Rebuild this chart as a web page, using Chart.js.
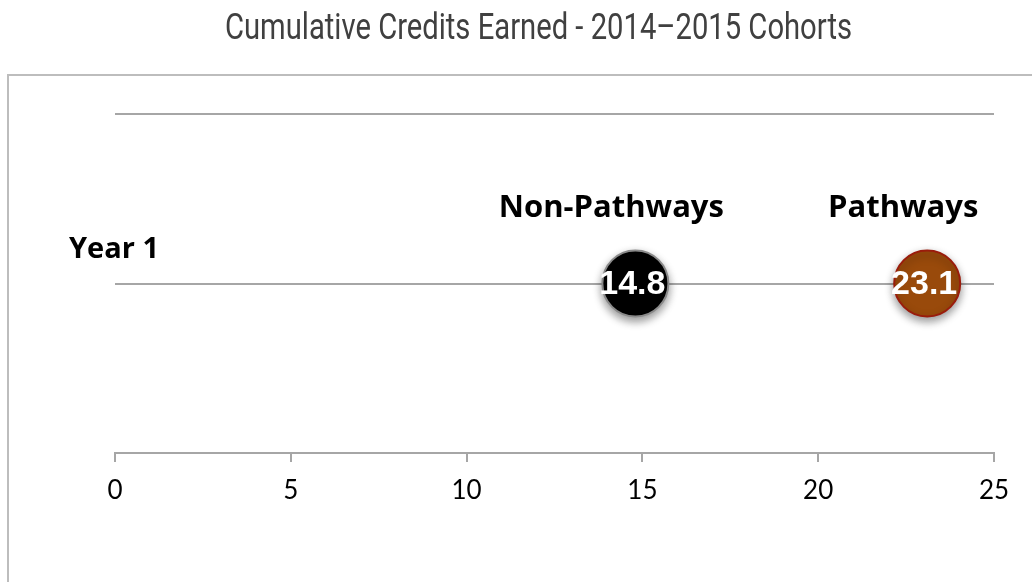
<!DOCTYPE html>
<html>
<head>
<meta charset="utf-8">
<script src="https://cdn.jsdelivr.net/npm/chart.js@4/dist/chart.umd.min.js"></script>
<style>
  html, body { margin: 0; padding: 0; background: #fff; }
  canvas { display: block; }
</style>
</head>
<body>
<canvas id="c" width="1032" height="582"></canvas>
<script>
const chartTitle = 'Cumulative Credits Earned - 2014\u20132015 Cohorts';
const categories = ['Year 1'];
const seriesNames = ['Non-Pathways', 'Pathways'];
const seriesValues = [14.8, 23.1];
const seriesFill = ['#000000', '#994a0b'];
const seriesBorder = ['#8a8a8a', '#9a1c0c'];
const xTicks = [0, 5, 10, 15, 20, 25];

const datasets = seriesNames.map((name, i) => ({
  label: name,
  data: [{ x: seriesValues[i], y: 1 }],
  backgroundColor: seriesFill[i],
  borderColor: seriesBorder[i],
  borderWidth: 2,
  pointRadius: 33,
  pointHoverRadius: 33
}));

const frame = {
  id: 'frame',
  beforeDraw(chart) {
    const ctx = chart.ctx;
    ctx.save();
    ctx.fillStyle = '#fff';
    ctx.fillRect(0, 0, chart.width, chart.height);
    ctx.strokeStyle = '#bdbdbd';
    ctx.lineWidth = 2;
    ctx.beginPath();
    ctx.moveTo(1040, 75);
    ctx.lineTo(8, 75);
    ctx.lineTo(8, 600);
    ctx.stroke();
    // condensed title (real text, horizontally compressed)
    ctx.font = '36px Roboto, "DejaVu Sans", sans-serif';
    ctx.fillStyle = '#404040';
    ctx.textAlign = 'center';
    ctx.textBaseline = 'middle';
    const w = ctx.measureText(chartTitle).width;
    const sx = 627 / w;
    ctx.translate(538.5, 30);
    ctx.scale(sx, 1);
    ctx.fillText(chartTitle, 0, 0);
    ctx.restore();
  }
};

const shadow = {
  id: 'shadow',
  beforeDatasetsDraw(chart) {
    const ctx = chart.ctx;
    ctx.save();
    ctx.shadowColor = 'rgba(0,0,0,0.4)';
    ctx.shadowBlur = 8;
    ctx.shadowOffsetY = 4;
  },
  afterDatasetsDraw(chart) {
    chart.ctx.restore();
  }
};

const labels = {
  id: 'labels',
  afterDatasetsDraw(chart) {
    const ctx = chart.ctx;
    const ys = chart.scales.y;
    ctx.save();
    categories.forEach((cat, ci) => {
      const py = ys.getPixelForValue(ci + 1);
      ctx.font = 'bold 29px "Open Sans", sans-serif';
      ctx.fillStyle = '#000';
      ctx.textAlign = 'left';
      ctx.textBaseline = 'middle';
      ctx.fillText(cat, 69, py - 34);
    });
    chart.data.datasets.forEach((ds, i) => {
      const el = chart.getDatasetMeta(i).data[0];
      ctx.font = 'bold 31px "Open Sans", sans-serif';
      ctx.fillStyle = '#000';
      ctx.textAlign = 'center';
      ctx.textBaseline = 'middle';
      ctx.fillText(ds.label, el.x - 24, el.y - 75);
      ctx.font = 'bold 34px "Liberation Sans", Arial, sans-serif';
      ctx.fillStyle = '#fff';
      ctx.fillText(ds.data[0].x.toFixed(1), el.x - 3, el.y + 1);
    });
    ctx.restore();
  }
};

new Chart(document.getElementById('c'), {
  type: 'scatter',
  data: { datasets },
  options: {
    responsive: false,
    animation: false,
    events: [],
    layout: { padding: { left: 115, right: 38, top: 114, bottom: 0 } },
    plugins: {
      legend: { display: false },
      tooltip: { enabled: false },
      title: { display: false }
    },
    scales: {
      x: {
        type: 'linear',
        min: 0,
        max: 25,
        afterBuildTicks(scale) { scale.ticks = xTicks.map(v => ({ value: v })); },
        afterFit(scale) { scale.height = 129; },
        grid: { drawOnChartArea: false, drawTicks: true, tickLength: 9, color: '#a6a6a6', lineWidth: 2 },
        border: { display: true, color: '#a6a6a6', width: 2 },
        ticks: { color: '#000', padding: 13, font: { family: 'Lato, "Open Sans", sans-serif', size: 26 } }
      },
      y: {
        type: 'linear',
        min: 0,
        max: 2,
        afterFit(scale) { scale.width = 0; },
        ticks: { display: false, stepSize: 1 },
        grid: { display: true, drawTicks: false, color: '#a6a6a6', lineWidth: 2 },
        border: { display: false }
      }
    }
  },
  plugins: [frame, shadow, labels]
});
</script>
</body>
</html>
